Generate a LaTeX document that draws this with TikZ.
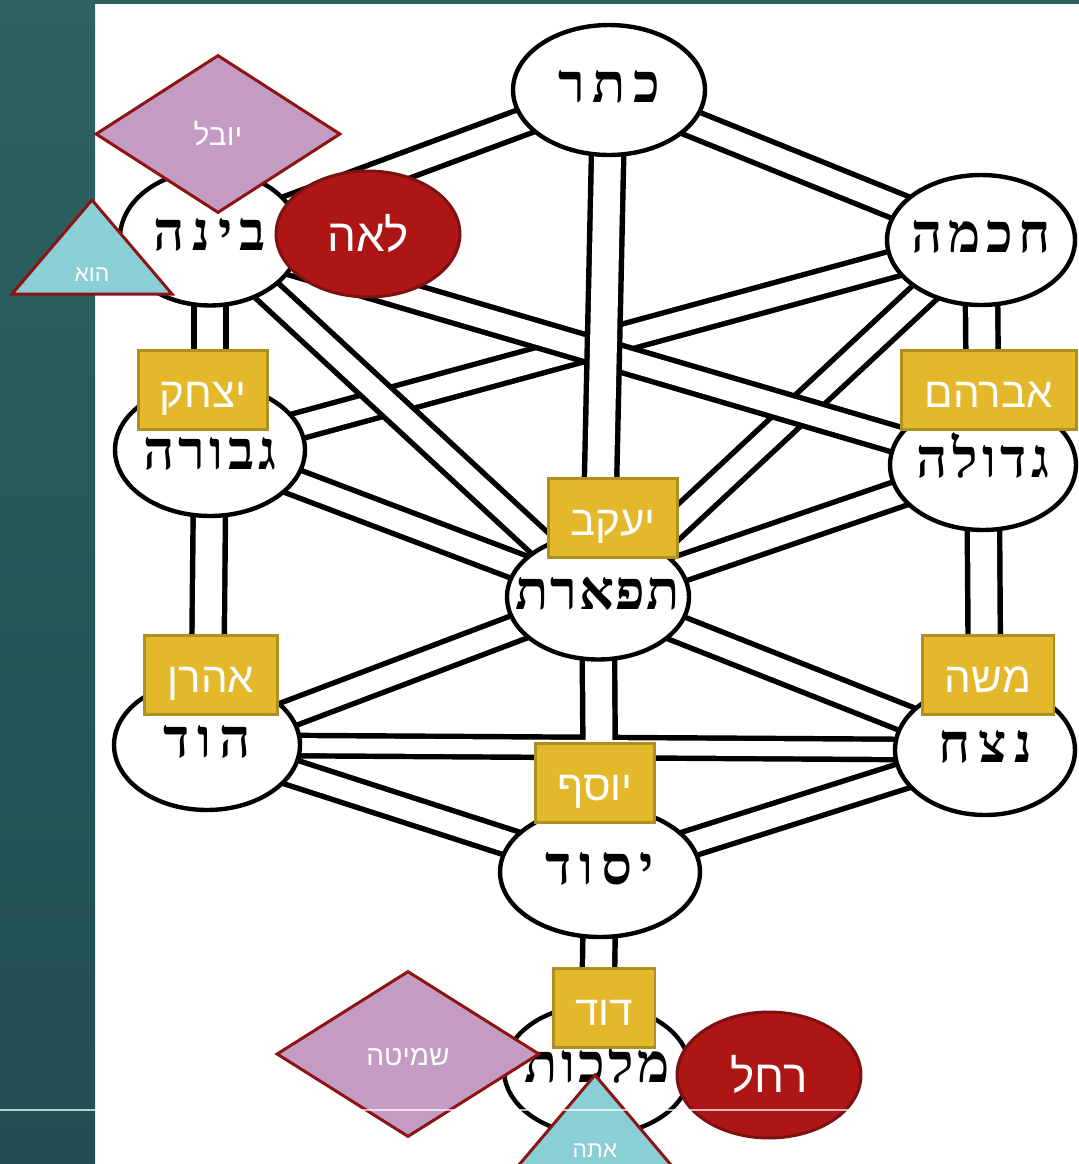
\documentclass[tikz,border=0pt]{standalone}
\usepackage{fontspec}
\usepackage{tikz}
\usetikzlibrary{shapes.geometric,backgrounds}
\TeXXeTstate=1
\newfontfamily\sefirafont[Script=Hebrew,LetterSpace=14]{Liberation Serif}
\newfontfamily\hebfont[Script=Hebrew]{Liberation Sans}
\newcommand{\sefname}[1]{\makebox[0pt]{\beginR #1\endR}}
\newcommand{\tightsef}[1]{\sefirafont\addfontfeature{LetterSpace=#1}\bfseries\fontsize{31}{33}\selectfont}
\definecolor{stripTop}{HTML}{2D6260}
\definecolor{stripMid}{HTML}{34706E}
\definecolor{stripBot}{HTML}{214E51}
\definecolor{boxgold}{HTML}{E4B82B}
\definecolor{boxedge}{HTML}{B08F22}
\definecolor{wifered}{HTML}{AE1515}
\definecolor{wifeedge}{HTML}{7E1010}
\definecolor{shapeedge}{HTML}{8C1414}
\definecolor{cyclepurple}{HTML}{C49BC3}
\definecolor{pronouncyan}{HTML}{8ACFD6}
\tikzset{
  sefira/.style={ellipse, draw=black, line width=2.5pt, fill=white, inner sep=0pt,
    minimum width=3.72cm, minimum height=2.6cm, text height=14pt, text depth=0pt,
    font=\sefirafont\bfseries\fontsize{31}{33}\selectfont},
  bandout/.style={draw=black, line width=18.1pt},
  bandin/.style={draw=white, line width=11.9pt},
  wideout/.style={draw=black, line width=21.5pt},
  widein/.style={draw=white, line width=15.3pt},
  namebox/.style={rectangle, draw=boxedge, fill=boxgold, line width=1.7pt, minimum width=2.6cm,
    minimum height=1.58cm, text height=20.4pt, text depth=0pt, text=white,
    font=\hebfont\fontsize{24}{26}\selectfont},
  wife/.style={ellipse, draw=wifeedge, fill=wifered, line width=1.7pt, minimum width=3.68cm,
    minimum height=2.52cm, text height=20.4pt, text depth=0pt, text=white,
    font=\hebfont\fontsize{26}{28}\selectfont},
  cyclediamond/.style={diamond, draw=shapeedge, fill=cyclepurple, line width=1.7pt, inner sep=0pt,
    minimum width=4.9cm, minimum height=3.16cm, text height=13.6pt, text depth=0pt, text=white,
    font=\hebfont\fontsize{17}{19}\selectfont},
  pronoun/.style={draw=shapeedge, fill=pronouncyan, line width=1.7pt},
  pronountext/.style={anchor=base, text=white, font=\hebfont\fontsize{13}{15}\selectfont}
}

\begin{document}
\begin{tikzpicture}[x=0.02cm, y=-0.02cm]
  \useasboundingbox (0,0) rectangle (1079,1164);
  % the ten sefirot
  \node[sefira, minimum width=3.84cm] (keter) at (609,90) {\sefname{כתר}};
  \node[sefira, minimum width=3.76cm, font=\tightsef{10}] (chokhmah) at (981,240) {\sefname{חכמה}};
  \node[sefira, minimum width=3.6cm, minimum height=2.7cm] (binah) at (210,238) {\sefname{בינה}};
  \node[sefira, minimum width=3.8cm, minimum height=2.64cm, text height=22pt, font=\tightsef{8}] (gevurah) at (210,450) {\sefname{גבורה}};
  \node[sefira, font=\tightsef{8}] (gedulah) at (983,465) {\sefname{גדולה}};
  \node[sefira, minimum width=3.64cm, minimum height=2.5cm, font=\tightsef{3}] (tiferet) at (598,597) {\sefname{תפארת}};
  \node[sefira] (hod) at (207,745) {\sefname{הוד}};
  \node[sefira, minimum width=3.6cm] (netzach) at (985,750) {\sefname{נצח}};
  \node[sefira, minimum width=4cm] (yesod) at (600,872) {\sefname{יסוד}};
  \node[sefira, font=\tightsef{6}] (malkhut) at (597,1070) {\sefname{מלכות}};

  \begin{pgfonlayer}{background}
    \fill[white] (0,0) rectangle (1079,1164);
    \shade[top color=stripTop, middle color=stripMid, bottom color=stripBot] (0,0) rectangle (95,1164);
    \fill[stripTop] (95,0) rectangle (1079,4);
    % paths that only meet, black first then white
    \foreach \a/\b in {keter/chokhmah, keter/binah, gevurah/tiferet, gedulah/tiferet,
      hod/tiferet, netzach/tiferet, hod/yesod, netzach/yesod}
      \draw[bandout] (\a.center) -- (\b.center);
    \foreach \a/\b in {binah/gevurah, gevurah/hod, chokhmah/gedulah,
      gedulah/netzach, tiferet/yesod, yesod/malkhut}
      \draw[wideout] (\a.center) -- (\b.center);
    \draw[bandout, line width=14.7pt] (hod.center) -- (netzach.center);
    \foreach \a/\b in {keter/chokhmah, keter/binah, gevurah/tiferet, gedulah/tiferet,
      hod/tiferet, netzach/tiferet, hod/yesod, netzach/yesod}
      \draw[bandin] (\a.center) -- (\b.center);
    \foreach \a/\b in {binah/gevurah, gevurah/hod, chokhmah/gedulah,
      gedulah/netzach, tiferet/yesod, yesod/malkhut}
      \draw[widein] (\a.center) -- (\b.center);
    \draw[bandin, line width=8.5pt] (hod.center) -- (netzach.center);
    % paths that cross, each one over the ones before it
    \foreach \a/\b in {chokhmah/gevurah, chokhmah/tiferet, binah/tiferet, binah/gedulah}{
      \draw[bandout] (\a.center) -- (\b.center);
      \draw[bandin] (\a.center) -- (\b.center);
    }
    \draw[wideout] (keter.center) -- (tiferet.center);
    \draw[widein] (keter.center) -- (tiferet.center);
  \end{pgfonlayer}

  % figures laid over the tree
  \node[namebox] (yitzchak) at (203,390) {\beginR יצחק\endR};
  \node[namebox, minimum width=3.52cm] (avraham) at (989,390) {\beginR אברהם\endR};
  \node[namebox] (yaakov) at (613,518) {\beginR יעקב\endR};
  \node[namebox, minimum width=2.66cm] (aharon) at (211,675) {\beginR אהרן\endR};
  \node[namebox, minimum width=2.64cm] (moshe) at (988,675) {\beginR משה\endR};
  \node[namebox, minimum width=2.4cm] (yosef) at (595,783) {\beginR יוסף\endR};
  \node[namebox, minimum width=2.04cm] (david) at (604,1008) {\beginR דוד\endR};

  \node[wife] (leah) at (368,234) {\beginR לאה\endR};
  \node[wife] (rachel) at (769,1075) {\beginR רחל\endR};

  \node[cyclediamond] (yovel) at (218,134) {\beginR יובל\endR};
  \node[cyclediamond, minimum width=5.26cm, minimum height=3.32cm, font=\hebfont\fontsize{16}{18}\selectfont]
    (shmita) at (408,1054) {\beginR שמיטה\endR};

  \draw[pronoun] (92,200) -- (172,294) -- (12,294) -- cycle;
  \node[pronountext] (hu) at (92,281) {\beginR הוא\endR};
  \draw[pronoun] (595,1075) -- (677,1172) -- (513,1172) -- cycle;
  \node[pronountext] (ata) at (595,1157) {\beginR אתה\endR};

  \draw[white, opacity=0.7, line width=0.6pt] (0,1110) -- (1079,1110);
\end{tikzpicture}
\end{document}
